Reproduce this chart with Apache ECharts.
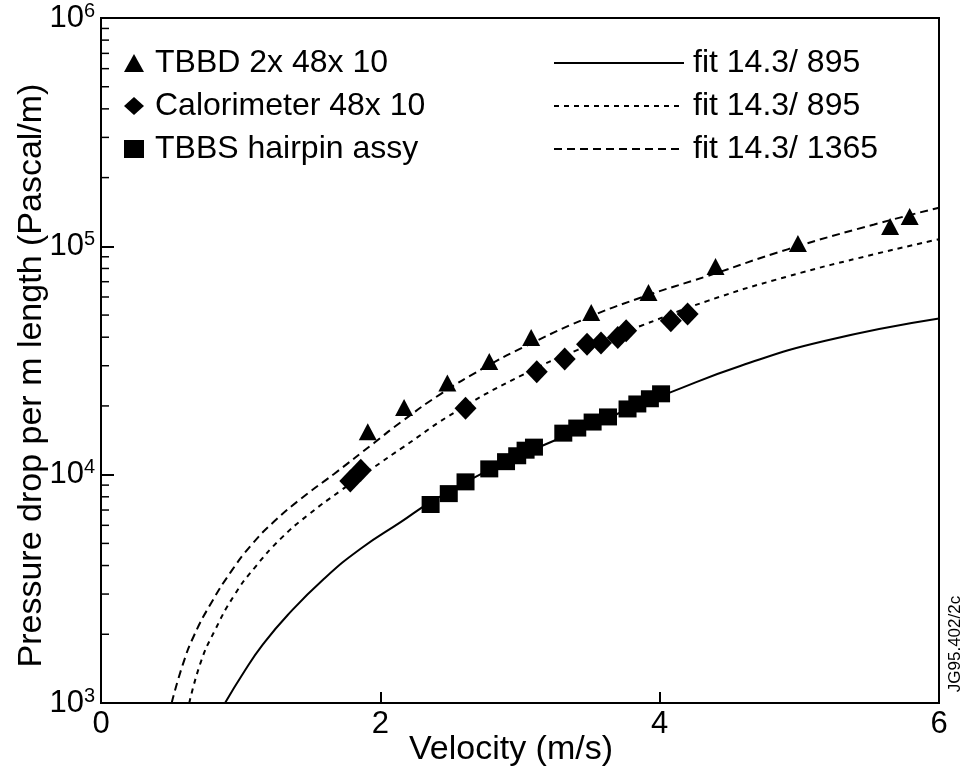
<!DOCTYPE html>
<html>
<head>
<meta charset="utf-8">
<script src="https://cdn.jsdelivr.net/npm/echarts@6/dist/echarts.min.js"></script>
<style>
  html, body { margin: 0; padding: 0; background: #fff; }
  #chart { width: 963px; height: 776px; }
</style>
</head>
<body>
<div id="chart"></div>
<script>
// measured points, velocity (m/s) / pressure drop (Pa/m)
const tbbdX = [1.91, 2.17, 2.48, 2.78, 3.08, 3.51, 3.92, 4.40, 4.99, 5.65, 5.79];
const tbbdY = [15400, 19700, 25200, 31300, 39900, 51300, 62800, 81500, 103000, 122000, 135000];

const caloX = [1.785, 1.86, 2.61, 3.12, 3.32, 3.48, 3.58, 3.70, 3.76, 4.08, 4.20];
const caloY = [9380, 10450, 19550, 28250, 32100, 37300, 37700, 39900, 42700, 47200, 50500];

const tbbsX = [2.36, 2.49, 2.61, 2.78, 2.90, 2.98, 3.04, 3.10, 3.31, 3.41, 3.52, 3.63, 3.77, 3.84, 3.93, 4.01];
const tbbsY = [7400, 8260, 9300, 10600, 11400, 12100, 12800, 13200, 15200, 16000, 17000, 17900, 19400, 20400, 21500, 22600];

// fit curves
const fitSolidX = [0.888, 1.026, 1.158, 1.337, 1.599, 1.861, 2.148, 2.363, 2.792, 3.222, 3.747, 4.081, 4.582, 5.179, 6.0];
const fitSolidY = [1000, 1375, 1800, 2430, 3510, 4750, 6210, 7600, 10600, 13900, 19000, 23000, 30000, 38500, 48300];

const fitDotX = [0.632, 0.716, 0.811, 0.955, 1.098, 1.289, 1.48, 1.718, 1.957, 2.148, 2.554, 3.031, 3.413, 3.867, 4.344, 4.916, 5.536, 6.0];
const fitDotY = [1000, 1520, 2055, 2970, 3900, 5260, 6640, 8530, 10800, 13000, 19100, 27600, 35200, 44900, 57700, 73800, 92300, 107400];

const fitDashX = [0.506, 0.585, 0.668, 0.788, 0.931, 1.074, 1.241, 1.432, 1.671, 1.957, 2.148, 2.434, 2.744, 3.031, 3.46, 3.867, 4.344, 4.916, 5.536, 6.0];
const fitDashY = [1000, 1469, 1986, 2735, 3760, 4900, 6250, 7850, 10100, 13800, 17000, 22600, 29400, 36300, 48000, 59700, 74200, 97000, 124700, 147600];

// minor tick values on the log axis
const minorTicks = [2e3, 3e3, 4e3, 5e3, 6e3, 7e3, 8e3, 9e3,
                    2e4, 3e4, 4e4, 5e4, 6e4, 7e4, 8e4, 9e4,
                    2e5, 3e5, 4e5, 5e5, 6e5, 7e5, 8e5, 9e5];

const FONT = 'Liberation Sans';

function zip(xs, ys) {
    return xs.map((x, i) => [x, ys[i]]);
}

let chart = echarts.init(document.getElementById('chart'));

let option = {
    animation: false,
    textStyle: { fontFamily: FONT, color: '#000' },
    grid: {
        left: 101, right: 24, top: 18, bottom: 73,
        outerBoundsMode: 'none',
        show: true, borderColor: '#000', borderWidth: 2
    },
    legend: [{
        orient: 'vertical',
        left: 119, top: 42,
        itemGap: 11,
        itemWidth: 20, itemHeight: 18,
        textStyle: { fontFamily: FONT, fontSize: 32, color: '#000', padding: [0, 0, 0, 6] },
        data: [
            { name: 'TBBD 2x 48x 10', icon: 'triangle' },
            { name: 'Calorimeter 48x 10', icon: 'diamond' },
            { name: 'TBBS hairpin assy', icon: 'rect' }
        ]
    }, {
        orient: 'vertical',
        left: 548, top: 42,
        itemGap: 11,
        itemWidth: 130, itemHeight: 14,
        itemStyle: { color: 'rgba(0,0,0,0)', borderColor: 'rgba(0,0,0,0)', borderWidth: 0 },
        textStyle: { fontFamily: FONT, fontSize: 32, color: '#000', padding: [0, 0, 0, 4] },
        formatter: name => name.trim(),
        data: ['fit 14.3/ 895', 'fit 14.3/ 895 ', 'fit 14.3/ 1365']
    }],
    xAxis: {
        type: 'value',
        min: 0, max: 6, interval: 2,
        name: 'Velocity (m/s)',
        nameLocation: 'middle',
        nameGap: 30,
        nameMoveOverlap: false,
        nameTextStyle: { fontFamily: FONT, fontSize: 34, color: '#000', padding: [0, 18, 0, 0] },
        axisLine: { lineStyle: { color: '#000', width: 2 } },
        axisTick: { inside: true, length: 11, lineStyle: { color: '#000', width: 2 } },
        axisLabel: { fontFamily: FONT, fontSize: 31, color: '#000', margin: 6 },
        splitLine: { show: false }
    },
    yAxis: {
        type: 'log',
        logBase: 10,
        min: 1000, max: 1000000,
        name: 'Pressure drop per m length (Pascal/m)',
        nameLocation: 'middle',
        nameGap: 52,
        nameMoveOverlap: false,
        nameTextStyle: { fontFamily: FONT, fontSize: 34, color: '#000', padding: [0, 30, 0, 0] },
        axisLine: { lineStyle: { color: '#000', width: 2 } },
        axisTick: { inside: true, length: 13, lineStyle: { color: '#000', width: 2 } },
        axisLabel: {
            margin: 6,
            showMinLabel: true, showMaxLabel: true,
            formatter: v => '{b|10}{s|' + Math.round(Math.log10(v)) + '}',
            rich: {
                b: { fontFamily: FONT, fontSize: 31, color: '#000', lineHeight: 34 },
                s: { fontFamily: FONT, fontSize: 20, color: '#000', lineHeight: 34, verticalAlign: 'top' }
            }
        },
        splitLine: { show: false }
    },
    graphic: [{
        type: 'text',
        x: 955, y: 644,
        rotation: Math.PI / 2,
        style: {
            text: 'JG95.402/2c',
            font: '17px "Liberation Sans"',
            fill: '#000',
            align: 'center',
            verticalAlign: 'middle'
        }
    }],
    series: [{
        name: 'minor ticks',
        type: 'scatter',
        data: minorTicks.map(v => [0, v]),
        symbol: 'rect',
        symbolSize: [8, 1.5],
        symbolOffset: [4, 0],
        clip: false,
        silent: true,
        itemStyle: { color: '#000', opacity: 1 }
    }, {
        name: 'fit 14.3/ 895',
        type: 'line',
        data: zip(fitSolidX, fitSolidY),
        symbol: 'none',
        smooth: 0.5,
        color: '#000',
        lineStyle: { color: '#000', width: 2 }
    }, {
        name: 'fit 14.3/ 895 ',
        type: 'line',
        data: zip(fitDotX, fitDotY),
        symbol: 'none',
        smooth: 0.5,
        color: '#000',
        lineStyle: { color: '#000', width: 2, type: [5, 5] }
    }, {
        name: 'fit 14.3/ 1365',
        type: 'line',
        data: zip(fitDashX, fitDashY),
        symbol: 'none',
        smooth: 0.5,
        color: '#000',
        lineStyle: { color: '#000', width: 2, type: [8, 5] }
    }, {
        name: 'TBBD 2x 48x 10',
        type: 'scatter',
        data: zip(tbbdX, tbbdY),
        symbol: 'triangle',
        symbolSize: [18, 17],
        itemStyle: { color: '#000', opacity: 1 }
    }, {
        name: 'Calorimeter 48x 10',
        type: 'scatter',
        data: zip(caloX, caloY),
        symbol: 'diamond',
        symbolSize: [22, 23],
        itemStyle: { color: '#000', opacity: 1 }
    }, {
        name: 'TBBS hairpin assy',
        type: 'scatter',
        data: zip(tbbsX, tbbsY),
        symbol: 'rect',
        symbolSize: [18, 17],
        itemStyle: { color: '#000', opacity: 1 }
    }]
};

chart.setOption(option);
</script>
</body>
</html>
